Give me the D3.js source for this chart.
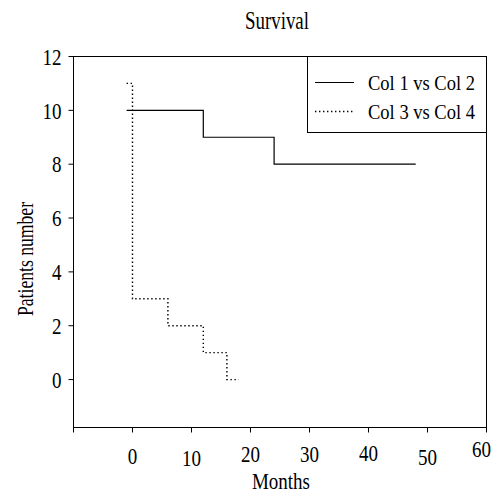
<!DOCTYPE html>
<html lang="en">
<head>
<meta charset="utf-8">
<title>Survival</title>
<script src="https://d3js.org/d3.v7.min.js"></script>
<style>
  body { margin: 0; background: #fff; }
</style>
</head>
<body>
<script>
// data
var seriesNames = ["Col 1 vs Col 2", "Col 3 vs Col 4"];
var months1 = [-1, 12, 24, 48];
var patients1 = [10, 9, 8, 8];
var months2 = [-1, 0, 6, 12, 16, 18];
var patients2 = [11, 3, 2, 1, 0, 0];
var xTicks = [-10, 0, 10, 20, 30, 40, 50, 60];
var yTicks = [0, 2, 4, 6, 8, 10, 12];

// small vertical wobble of the x labels in the original
var xLabelNudge = [0, 2, 4, 0, 0, -1, 3, -5];

var width = 496, height = 494;
var margin = {top: 56, right: 10, bottom: 67, left: 73};
var serif = "'Liberation Serif'";
var digitW = 9.5; // the original font is a narrow Times

var svg = d3.select("body").append("svg")
    .attr("width", width)
    .attr("height", height);

var x = d3.scaleLinear().domain([-10, 60]).range([margin.left, width - margin.right]);
var y = d3.scaleLinear().domain([-1.78, 12]).range([height - margin.bottom, margin.top]);

// frame
svg.append("rect")
    .attr("x", x(-10) + 0.5).attr("y", y(12) + 0.5)
    .attr("width", x(60) - x(-10)).attr("height", y(-1.78) - y(12))
    .attr("fill", "none").attr("stroke", "#000");

// y axis
var yAxis = svg.append("g").attr("transform", "translate(" + (x(-10) + 0.5) + ",0.5)");
yAxis.selectAll("line").data(yTicks).enter().append("line")
    .attr("x1", -5).attr("x2", 0)
    .attr("y1", function(d) { return y(d); }).attr("y2", function(d) { return y(d); })
    .attr("stroke", "#000");
yAxis.selectAll("text").data(yTicks).enter().append("text")
    .attr("x", -12).attr("y", function(d) { return y(d); })
    .attr("dy", "0.34em")
    .attr("text-anchor", "end")
    .attr("textLength", function(d) { return String(d).length * digitW; })
    .attr("lengthAdjust", "spacingAndGlyphs")
    .style("font-family", serif)
    .style("font-size", "24px")
    .text(function(d) { return d; });

// x axis
var xAxis = svg.append("g").attr("transform", "translate(0.5," + (y(-1.78) + 0.5) + ")");
xAxis.selectAll("line").data(xTicks).enter().append("line")
    .attr("x1", function(d) { return x(d); }).attr("x2", function(d) { return x(d); })
    .attr("y1", 0).attr("y2", 5)
    .attr("stroke", "#000");
xAxis.selectAll("text").data(xTicks.filter(function(d) { return d >= 0; })).enter().append("text")
    .attr("x", function(d) { return Math.min(x(d), width - 15); })
    .attr("y", function(d, i) { return 34 + xLabelNudge[i + 1]; })
    .attr("text-anchor", "middle")
    .attr("textLength", function(d) { return String(d).length * digitW; })
    .attr("lengthAdjust", "spacingAndGlyphs")
    .style("font-family", serif)
    .style("font-size", "24px")
    .text(function(d) { return d; });

// titles
svg.append("text")
    .attr("x", 277).attr("y", 29)
    .attr("text-anchor", "middle")
    .attr("textLength", 64).attr("lengthAdjust", "spacingAndGlyphs")
    .style("font-family", serif)
    .style("font-size", "25px")
    .text("Survival");

svg.append("text")
    .attr("x", 281).attr("y", 489)
    .attr("text-anchor", "middle")
    .attr("textLength", 58).attr("lengthAdjust", "spacingAndGlyphs")
    .style("font-family", serif)
    .style("font-size", "24px")
    .text("Months");

svg.append("text")
    .attr("transform", "translate(33,259) rotate(-90)")
    .attr("text-anchor", "middle")
    .attr("textLength", 114).attr("lengthAdjust", "spacingAndGlyphs")
    .style("font-family", serif)
    .style("font-size", "24px")
    .text("Patients number");

// step lines
var line = d3.line()
    .x(function(d) { return x(d[0]) + 0.5; })
    .y(function(d) { return y(d[1]) + 0.5; })
    .curve(d3.curveStepAfter);

svg.append("path")
    .datum(d3.zip(months1, patients1))
    .attr("d", line)
    .attr("fill", "none").attr("stroke", "#000").attr("stroke-width", 1.2);

svg.append("path")
    .datum(d3.zip(months2, patients2))
    .attr("d", line)
    .attr("fill", "none").attr("stroke", "#000").attr("stroke-width", 1.4)
    .attr("stroke-dasharray", "1.4,2.6");

// legend
var legend = svg.append("g");
legend.append("rect")
    .attr("x", 307.5).attr("y", y(12) + 0.5)
    .attr("width", x(60) - 307).attr("height", 76)
    .attr("fill", "#fff").attr("stroke", "#000");

var dashes = [null, "1.4,2.6"];
var rows = legend.selectAll("g.row").data(seriesNames).enter().append("g")
    .attr("class", "row")
    .attr("transform", function(d, i) { return "translate(0," + (82.5 + i * 29) + ")"; });
rows.append("line")
    .attr("x1", 315).attr("x2", 354)
    .attr("stroke", "#000")
    .attr("stroke-width", function(d, i) { return i ? 1.4 : 1; })
    .attr("stroke-dasharray", function(d, i) { return dashes[i]; });
rows.append("text")
    .attr("x", 368).attr("y", 7)
    .attr("textLength", 107).attr("lengthAdjust", "spacingAndGlyphs")
    .style("font-family", serif)
    .style("font-size", "22px")
    .text(function(d) { return d; });
</script>
</body>
</html>
